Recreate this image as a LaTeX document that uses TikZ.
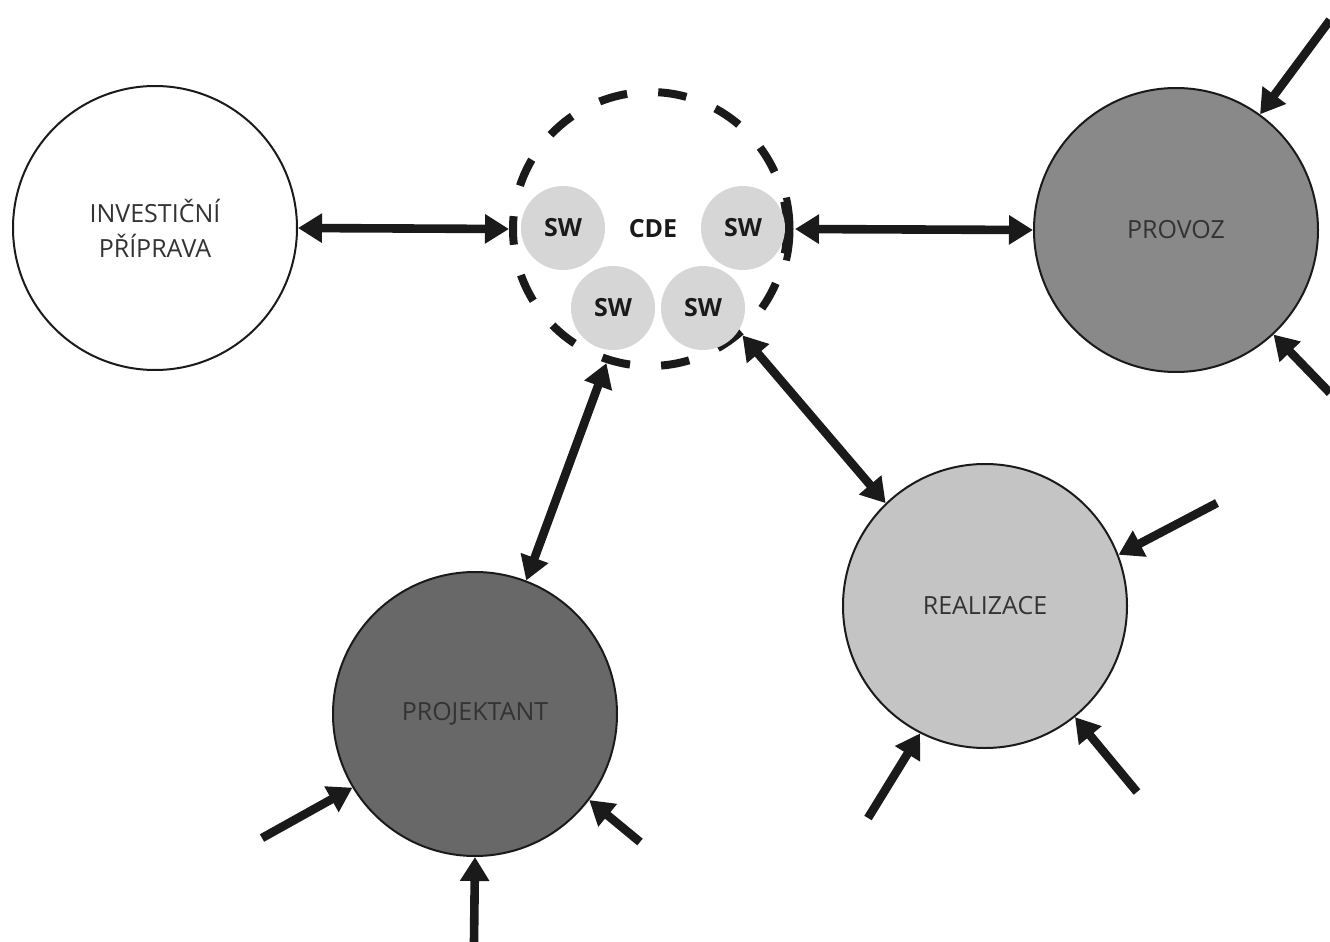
\documentclass[tikz,border=0pt]{standalone}
\usepackage{fontspec}
\setmainfont{Open Sans}
\usetikzlibrary{arrows.meta}
\definecolor{swgray}{HTML}{D6D6D6}
\definecolor{realgray}{HTML}{C4C4C4}
\definecolor{provgray}{HTML}{898989}
\definecolor{projgray}{HTML}{686868}
\definecolor{txt}{HTML}{333333}
\definecolor{ink}{HTML}{1A1A1A}
\tikzset{
  phase/.style={circle, draw=ink, line width=1pt, minimum size=142pt, inner sep=0pt,
    font=\fontsize{12.5}{17.5}\selectfont, text=txt, align=center},
  swnode/.style={circle, fill=swgray, minimum size=42pt, inner sep=0pt,
    font=\bfseries\fontsize{12.5}{15}\selectfont, text=ink},
  cdering/.style={circle, draw=ink, line width=4pt, minimum size=137pt, inner sep=0pt,
    dash pattern=on 14.3pt off 15.6pt, dash phase=0.5pt},
  tip/.tip={Triangle[length=12pt,width=14pt]},
  link/.style={draw=ink, line width=4.3pt, tip-tip},
  inarrow/.style={draw=ink, line width=4.3pt, -tip},
}
\begin{document}
\begin{tikzpicture}[x=0.5pt, y=-0.5pt]
\useasboundingbox (0,0) rectangle (1330,942);

% main phase circles
\node[phase, fill=white] (inv) at (155,228) {INVESTIČNÍ\\PŘÍPRAVA};
\node[phase, fill=provgray] (prov) at (1176,230) {PROVOZ};
\node[phase, fill=realgray] (real) at (985,606) {REALIZACE};
\node[phase, fill=projgray] (proj) at (475,714) {PROJEKTANT};

% CDE
\node[cdering] (cde) at (650,229) {};
\draw[ink, line width=3.5pt] ([shift={(-13:70pt)}]cde.center) arc[start angle=-13, end angle=13, radius=70pt];
\node[swnode] (sw1) at (563,228) {SW};
\node[swnode] (sw2) at (743,228) {SW};
\node[swnode] (sw3) at (613,308) {SW};
\node[swnode] (sw4) at (703,308) {SW};
\node[font=\bfseries\fontsize{12.5}{15}\selectfont, text=ink] (cdelabel) at (653,229) {CDE};

% links between phases and CDE
\draw[link] (inv.east) -- (cde.west);
\draw[link] ([xshift=2pt]cde.east) -- (prov.west);
\draw[link] (cde.-108) -- (proj.69.5);
\draw[link] (cde.-49) -- (real.134);

% incoming arrows
\coordinate (pa) at (1330,20);
\coordinate (pb) at (1330,393);
\coordinate (ra) at (1217,503);
\coordinate (rb) at (1137,792);
\coordinate (rc) at (868,818);
\coordinate (ja) at (262,838);
\coordinate (jb) at (640,842);
\coordinate (jc) at (474,942);

\draw[inarrow] (pa) -- (prov.54.6);
\draw[inarrow] (pb) -- (prov.-47);
\draw[inarrow] (ra) -- (real.21.7);
\draw[inarrow] (rb) -- (real.-51);
\draw[inarrow] (rc) -- (real.-117);
\draw[inarrow] (ja) -- (proj.-149);
\draw[inarrow] (jb) -- (proj.-37.6);
\draw[inarrow] (jc) -- (proj.south);
\end{tikzpicture}
\end{document}
